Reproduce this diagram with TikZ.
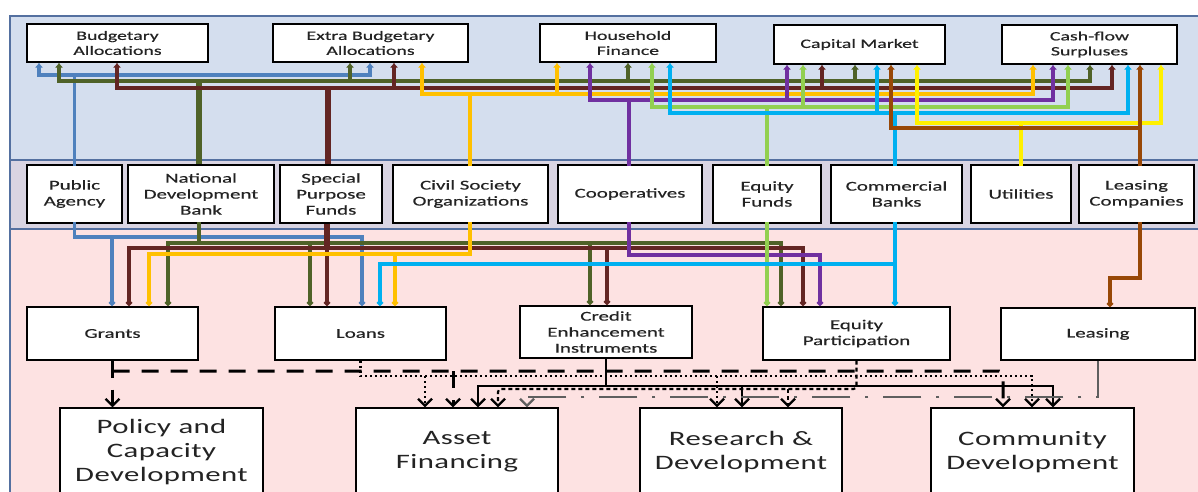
\documentclass[tikz,border=0pt]{standalone}
\usepackage{fontspec}
\setmainfont{Carlito}[FakeStretch=1.55,FakeBold=0.4]
\newfontfamily\bigfont{Carlito}[FakeStretch=1.5,LetterSpace=2.0]
\usetikzlibrary{arrows.meta}
\definecolor{topband}{RGB}{212,222,238}
\definecolor{midband}{RGB}{217,212,226}
\definecolor{botband}{RGB}{253,226,226}
\definecolor{bandline}{RGB}{84,112,160}
\definecolor{cblue}{RGB}{79,129,189}
\definecolor{cgreen}{RGB}{79,98,40}
\definecolor{cmaroon}{RGB}{99,37,35}
\definecolor{cgold}{RGB}{255,192,0}
\definecolor{cpurple}{RGB}{112,48,160}
\definecolor{clgreen}{RGB}{146,208,80}
\definecolor{ccyan}{RGB}{0,176,240}
\definecolor{cyellow}{RGB}{255,240,0}
\definecolor{cbrown}{RGB}{152,72,7}
\definecolor{txt}{RGB}{35,35,35}
\definecolor{leasegray}{RGB}{95,95,95}
\begin{document}
\begin{tikzpicture}[x=1pt,y=-1pt,
  box/.style={draw=black,line width=1.4pt,fill=white,inner sep=0pt,align=center,text=txt},
  srcbox/.style={box,font=\fontsize{12.8}{15}\selectfont},
  midbox/.style={box,font=\fontsize{13.5}{16}\selectfont},
  bigbox/.style={box,font=\bigfont\fontsize{20.5}{24}\selectfont},
  flow/.style={line width=3.4pt,line cap=rect},
  trunk/.style={line width=5.5pt},
  up/.style={-{Latex[length=5pt,width=8.5pt]}},
  dn/.style={-{Turned Square[length=7pt,width=7pt]}},
  barb/.style={-{Straight Barb[length=7pt,width=14pt,line width=2.2pt]}},
  bothbarb/.style={{Straight Barb[length=7pt,width=14pt,line width=2.2pt]}-{Straight Barb[length=7pt,width=14pt,line width=2.2pt]}},
  grantline/.style={line width=3pt,dash pattern=on 17pt off 12pt},
  loanline/.style={line width=2.4pt,dash pattern=on 2pt off 3pt},
  creditline/.style={line width=2.1pt},
  eqline/.style={line width=2.1pt,dash pattern=on 4pt off 3pt},
  leaseline/.style={line width=2.4pt,leasegray,dash pattern=on 38pt off 15pt on 3pt off 15pt}
]
\useasboundingbox (0,0) rectangle (1198,491);
\clip (0,0) rectangle (1198,491);
% bands
\fill[topband] (10,16) rectangle (1198,160);
\fill[midband] (10,160) rectangle (1198,229);
\fill[botband] (10,229) rectangle (1198,500);
\draw[bandline,line width=1.2pt] (10,500) -- (10,16) -- (1198,16);
\draw[bandline,line width=1.2pt] (10,160) -- (1198,160);
\draw[bandline,line width=1.2pt] (10,229) -- (1198,229);

% ---------- nodes ----------
\node[srcbox,minimum width=181,minimum height=38] (ba) at (117.5,43) {Budgetary\\Allocations};
\node[srcbox,minimum width=195,minimum height=38] (eba) at (370.5,43) {Extra Budgetary\\Allocations};
\node[srcbox,minimum width=176,minimum height=38] (hf) at (628,43) {Household\\Finance};
\node[srcbox,minimum width=171,minimum height=39] (cm) at (859.5,44.5) {Capital Market};
\node[srcbox,minimum width=175,minimum height=39] (cf) at (1089.5,44.5) {Cash-flow\\Surpluses};

\node[midbox,minimum width=95,minimum height=58] (pa) at (74.5,194) {Public\\Agency};
\node[midbox,minimum width=146,minimum height=58] (ndb) at (201,194) {National\\Development\\Bank};
\node[midbox,minimum width=102,minimum height=58] (spf) at (331,194) {Special\\Purpose\\Funds};
\node[midbox,minimum width=155,minimum height=58] (cso) at (470.5,194) {Civil Society\\Organizations};
\node[midbox,minimum width=144,minimum height=58] (coop) at (630,194) {Cooperatives};
\node[midbox,minimum width=108,minimum height=58] (ef) at (767,194) {Equity\\Funds};
\node[midbox,minimum width=131,minimum height=58] (cb) at (896.5,194) {Commercial\\Banks};
\node[midbox,minimum width=100,minimum height=58] (ut) at (1021,194) {Utilities};
\node[midbox,minimum width=115,minimum height=58] (lc) at (1136.5,194) {Leasing\\Companies};

\node[midbox,minimum width=171,minimum height=53] (gr) at (112.5,333.5) {Grants};
\node[midbox,minimum width=171,minimum height=53] (lo) at (360.5,333.5) {Loans};
\node[midbox,minimum width=172,minimum height=52] (ce) at (606,332) {Credit\\Enhancement\\Instruments};
\node[midbox,minimum width=187,minimum height=53] (ep) at (856.5,333.5) {Equity\\Participation};
\node[midbox,minimum width=194,minimum height=52] (le) at (1098,334) {Leasing};

\node[bigbox,minimum width=203,minimum height=88] (pcd) at (161.5,452) {Policy and\\Capacity\\Development};
\node[bigbox,minimum width=202,minimum height=88] (af) at (457,452) {Asset\\Financing};
\node[bigbox,minimum width=202,minimum height=88] (rd) at (741,452) {Research \&\\Development};
\node[bigbox,minimum width=203,minimum height=88] (cd) at (1032.5,452) {Community\\Development};

% ---------- upper band connectors ----------
% blue (Public Agency)
\draw[flow,cblue,up] (pa.north) |- (39,75) -- (39,0 |- ba.south);
\draw[flow,cblue,up] (pa.north |- 0,75) -| (370,0 |- eba.south);
% green (National Development Bank)
\draw[flow,cgreen] (59,81) -- (1090,81);
\foreach \x/\n in {59/ba,350/eba,628/hf,855/cm,1090/cf}
  \draw[flow,cgreen,up] (\x,81) -- (\x,0 |- \n.south);
\draw[trunk,cgreen] (199,81) -- (199,0 |- ndb.north);
% maroon (Special Purpose Funds)
\draw[flow,cmaroon] (117,88) -- (1112,88);
\foreach \x/\n in {117/ba,394/eba,822/cm,1112/cf}
  \draw[flow,cmaroon,up] (\x,88) -- (\x,0 |- \n.south);
\draw[trunk,cmaroon] (328,88) -- (328,0 |- spf.north);
% gold (Civil Society Organizations)
\draw[flow,cgold] (422,94) -- (1033,94);
\foreach \x/\n in {422/eba,557/hf,1033/cf}
  \draw[flow,cgold,up] (\x,94) -- (\x,0 |- \n.south);
\draw[flow,cgold] (470,94) -- (470,0 |- cso.north);
% purple (Cooperatives)
\draw[flow,cpurple] (590,100) -- (1053,100);
\foreach \x/\n in {590/hf,787/cm,1053/cf}
  \draw[flow,cpurple,up] (\x,100) -- (\x,0 |- \n.south);
\draw[flow,cpurple] (629,100) -- (629,0 |- coop.north);
% light green (Equity Funds)
\draw[flow,clgreen] (652,107) -- (1068,107);
\foreach \x/\n in {652/hf,803/cm,1068/cf}
  \draw[flow,clgreen,up] (\x,107) -- (\x,0 |- \n.south);
\draw[flow,clgreen] (767,107) -- (767,0 |- ef.north);
% cyan (Commercial Banks)
\draw[flow,ccyan] (670,113) -- (1128,113);
\foreach \x/\n in {670/hf,877/cm,1128/cf}
  \draw[flow,ccyan,up] (\x,113) -- (\x,0 |- \n.south);
\draw[flow,ccyan] (895,113) -- (895,0 |- cb.north);
% yellow (Utilities)
\draw[flow,cyellow] (917,123) -- (1161,123);
\foreach \x/\n in {917/cm,1161/cf}
  \draw[flow,cyellow,up] (\x,123) -- (\x,0 |- \n.south);
\draw[flow,cyellow] (1021,123) -- (1021,0 |- ut.north);
% brown (Leasing Companies)
\draw[flow,cbrown] (891,128) -- (1140,128);
\draw[flow,cbrown,up] (891,128) -- (891,0 |- cm.south);
\draw[flow,cbrown,up] (1140,0 |- lc.north) -- (1140,0 |- cf.south);

% ---------- lower band connectors ----------
% blue
\draw[flow,cblue,dn] (pa.south) |- (362,237) -- (362,0 |- lo.north);
\draw[flow,cblue,dn] (112,237) -- (112,0 |- gr.north);
% green
\draw[flow,cgreen] (199,0 |- ndb.south) -- (199,243);
\draw[flow,cgreen] (168,243) -- (781,243);
\foreach \x/\n in {168/gr,310/lo,590/ce,781/ep}
  \draw[flow,cgreen,dn] (\x,243) -- (\x,0 |- \n.north);
% maroon
\draw[trunk,cmaroon] (327,0 |- spf.south) -- (327,248);
\draw[flow,cmaroon] (129,248) -- (803,248);
\foreach \x/\n in {129/gr,327/lo,607/ce,803/ep}
  \draw[flow,cmaroon,dn] (\x,248) -- (\x,0 |- \n.north);
% gold
\draw[flow,cgold] (470,0 |- cso.south) -- (470,254) -- (149,254);
\foreach \x/\n in {149/gr,395/lo}
  \draw[flow,cgold,dn] (\x,254) -- (\x,0 |- \n.north);
% purple
\draw[flow,cpurple,dn] (629,0 |- coop.south) |- (820,255) -- (820,0 |- ep.north);
% light green
\draw[flow,clgreen,dn] (767,0 |- ef.south) -- (767,0 |- ep.north);
% cyan
\draw[flow,ccyan,dn] (895,0 |- cb.south) -- (895,0 |- ep.north);
\draw[flow,ccyan,dn] (895,264) -| (380,0 |- lo.north);
% brown
\draw[flow,cbrown,dn] (1140,0 |- lc.south) |- (1110,278) -- (1110,0 |- le.north);

% ---------- instruments to outcomes ----------
% Grants
\draw[grantline,barb] (gr.south) -- (pcd.north -| gr.south);
\draw[grantline,barb,rounded corners=4pt] (gr.south |- 0,371) -| (1003,0 |- cd.north);
\draw[grantline,barb] (453,371) -- (453,0 |- af.north);
% Loans
\draw[loanline,barb] (lo.south) |- (1032,376) -- (1032,0 |- cd.north);
\draw[loanline,barb] (425,376) -- (425,0 |- af.north);
\draw[loanline,barb] (717,376) -- (717,0 |- rd.north);
% Credit enhancement
\draw[creditline] (ce.south) -- (ce.south |- 0,386);
\draw[creditline,bothbarb] (478,0 |- af.north) |- (1053,386) -- (1053,0 |- cd.north);
\draw[creditline,barb] (742,386) -- (742,0 |- rd.north);
% Equity participation
\draw[eqline,barb,rounded corners=3pt] (ep.south) |- (498,389) -- (498,0 |- af.north);
\draw[eqline,barb] (788,389) -- (788,0 |- rd.north);
% Leasing
\draw[leaseline,barb] (le.south) |- (527,397) -- (527,0 |- af.north);
\end{tikzpicture}
\end{document}
